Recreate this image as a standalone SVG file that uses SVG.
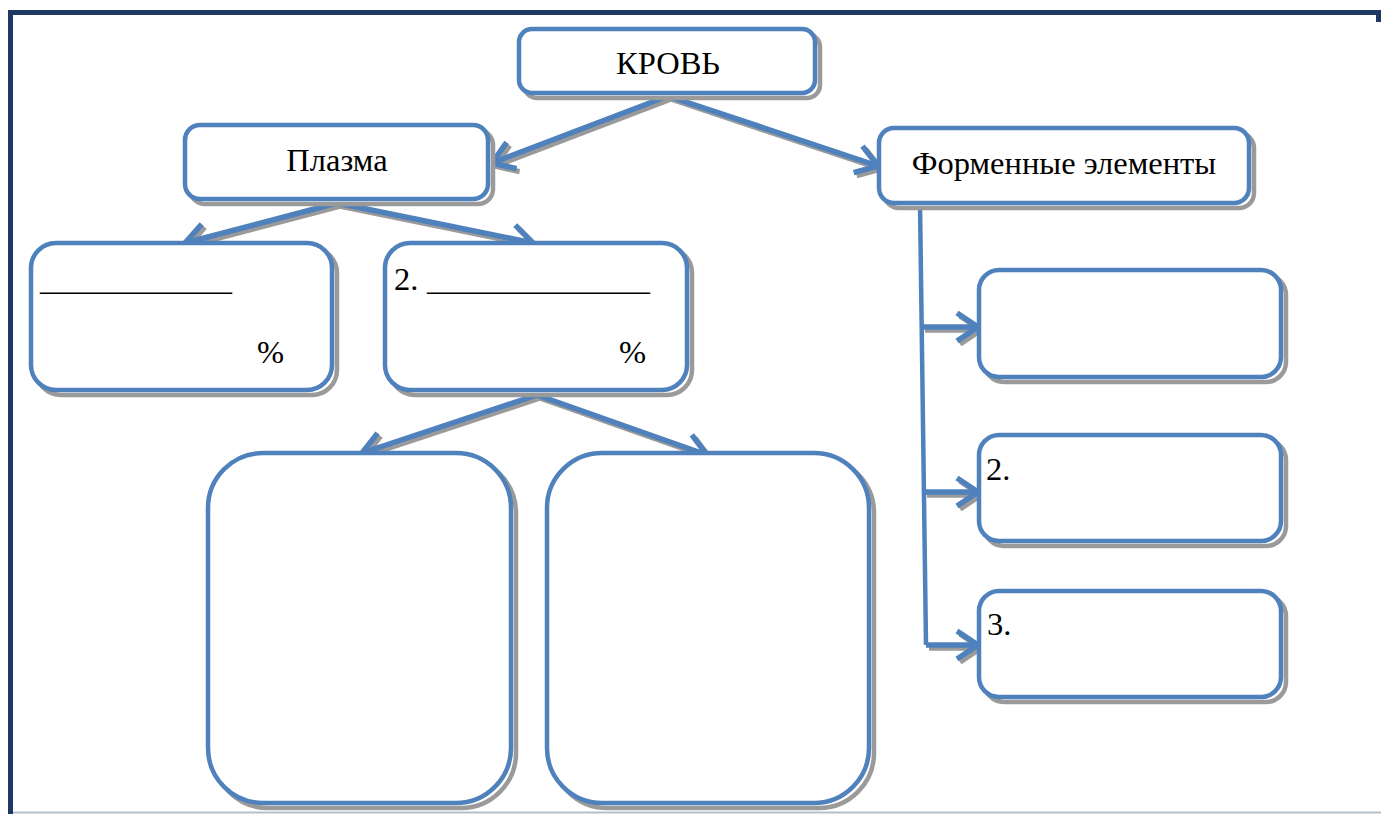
<svg xmlns="http://www.w3.org/2000/svg" width="1381" height="814" viewBox="0 0 1381 814">
<defs>
<style>
.box{fill:#fff;stroke:#4F81BD;stroke-width:4.5}
.sh{fill:#fff;stroke:#9A9A9A;stroke-width:4.5}
.t{font-family:'Liberation Serif','Times New Roman',serif;font-size:32.5px;fill:#000}
.c{stroke:#4F81BD;stroke-width:5.5;fill:none;stroke-linecap:butt}
.cs{stroke:#9A9A9A;stroke-width:5.5;fill:none}
</style>
<marker id="ah" markerUnits="userSpaceOnUse" markerWidth="40" markerHeight="40" refX="26" refY="15" orient="auto" overflow="visible">
<path d="M5,1 L26,15 L5,29" fill="none" stroke="#4F81BD" stroke-width="5.5"/>
</marker>
<marker id="ahs" markerUnits="userSpaceOnUse" markerWidth="40" markerHeight="40" refX="26" refY="15" orient="auto" overflow="visible">
<path d="M5,1 L26,15 L5,29" fill="none" stroke="#9A9A9A" stroke-width="5.5"/>
</marker>
</defs>
<rect width="1381" height="814" fill="#fff"/>
<g id="frame">
<line x1="8" y1="12.5" x2="1381" y2="12.5" stroke="#1F3864" stroke-width="5"/>
<line x1="10.5" y1="10" x2="10.5" y2="814" stroke="#1F3864" stroke-width="5"/>
<line x1="1378.5" y1="10" x2="1378.5" y2="22" stroke="#1F3864" stroke-width="5"/>
<line x1="13" y1="812.5" x2="1381" y2="812.5" stroke="#B4C0C8" stroke-width="2"/>
</g>
<g id="connectors">
<g transform="translate(3,3)">
<path class="cs" d="M668,96 L492,163" marker-end="url(#ahs)"/>
<path class="cs" d="M668,96 L878,166" marker-end="url(#ahs)"/>
<path class="cs" d="M337,203 L185,243" marker-end="url(#ahs)"/>
<path class="cs" d="M337,203 L533,243" marker-end="url(#ahs)"/>
<path class="cs" d="M537,395 L362,453" marker-end="url(#ahs)"/>
<path class="cs" d="M537,395 L707,455" marker-end="url(#ahs)"/>
<path class="cs" d="M922,327 L978,327" marker-end="url(#ahs)"/>
<path class="cs" d="M924,492 L978,492" marker-end="url(#ahs)"/>
<path class="cs" d="M926,645 L978,645" marker-end="url(#ahs)"/>
</g>
<path class="c" d="M668,96 L492,163" marker-end="url(#ah)"/>
<path class="c" d="M668,96 L878,166" marker-end="url(#ah)"/>
<path class="c" d="M337,203 L185,243" marker-end="url(#ah)"/>
<path class="c" d="M337,203 L533,243" marker-end="url(#ah)"/>
<path class="c" d="M537,395 L362,453" marker-end="url(#ah)"/>
<path class="c" d="M537,395 L707,455" marker-end="url(#ah)"/>
<path class="c" d="M920,203 L926,645" style="stroke-width:4.5"/>
<path class="c" d="M921,327 L978,327" marker-end="url(#ah)"/>
<path class="c" d="M924,492 L978,492" marker-end="url(#ah)"/>
<path class="c" d="M926,645 L978,645" marker-end="url(#ah)"/>
</g>
<g id="krov">
<rect class="sh" x="524" y="34" width="296" height="64" rx="13"/>
<rect class="box" x="519" y="29" width="296" height="64" rx="13"/>
<text class="t" x="668" y="74" text-anchor="middle">КРОВЬ</text>
</g>
<g id="plazma">
<rect class="sh" x="190" y="130" width="303" height="74" rx="15"/>
<rect class="box" x="185" y="125" width="303" height="74" rx="15"/>
<text class="t" x="337" y="171" text-anchor="middle">Плазма</text>
</g>
<g id="formennye">
<rect class="sh" x="884" y="133" width="370" height="75" rx="15"/>
<rect class="box" x="879" y="128" width="370" height="75" rx="15"/>
<text class="t" x="1064" y="174" text-anchor="middle">Форменные элементы</text>
</g>
<g id="plasma1">
<rect class="sh" x="36" y="248" width="301" height="147" rx="25"/>
<rect class="box" x="31" y="243" width="301" height="147" rx="25"/>
<text class="t" x="40" y="290" textLength="192" lengthAdjust="spacingAndGlyphs">____________</text>
<text class="t" x="257" y="363">%</text>
</g>
<g id="plasma2">
<rect class="sh" x="390" y="248" width="302" height="147" rx="25"/>
<rect class="box" x="385" y="243" width="302" height="147" rx="25"/>
<text class="t" x="394" y="290">2. <tspan x="427" textLength="223" lengthAdjust="spacingAndGlyphs">______________</tspan></text>
<text class="t" x="619" y="363">%</text>
</g>
<g id="sub1">
<rect class="sh" x="213" y="458" width="303" height="350" rx="55"/>
<rect class="box" x="208" y="453" width="303" height="350" rx="55"/>
</g>
<g id="sub2">
<rect class="sh" x="552" y="458" width="322" height="350" rx="55"/>
<rect class="box" x="547" y="453" width="322" height="350" rx="55"/>
</g>
<g id="el1">
<rect class="sh" x="984" y="275" width="302" height="107" rx="20"/>
<rect class="box" x="979" y="270" width="302" height="107" rx="20"/>
</g>
<g id="el2">
<rect class="sh" x="984" y="440" width="302" height="106" rx="20"/>
<rect class="box" x="979" y="435" width="302" height="106" rx="20"/>
<text class="t" x="986" y="480">2.</text>
</g>
<g id="el3">
<rect class="sh" x="984" y="596" width="302" height="106" rx="20"/>
<rect class="box" x="979" y="591" width="302" height="106" rx="20"/>
<text class="t" x="987" y="635">3.</text>
</g>
</svg>
